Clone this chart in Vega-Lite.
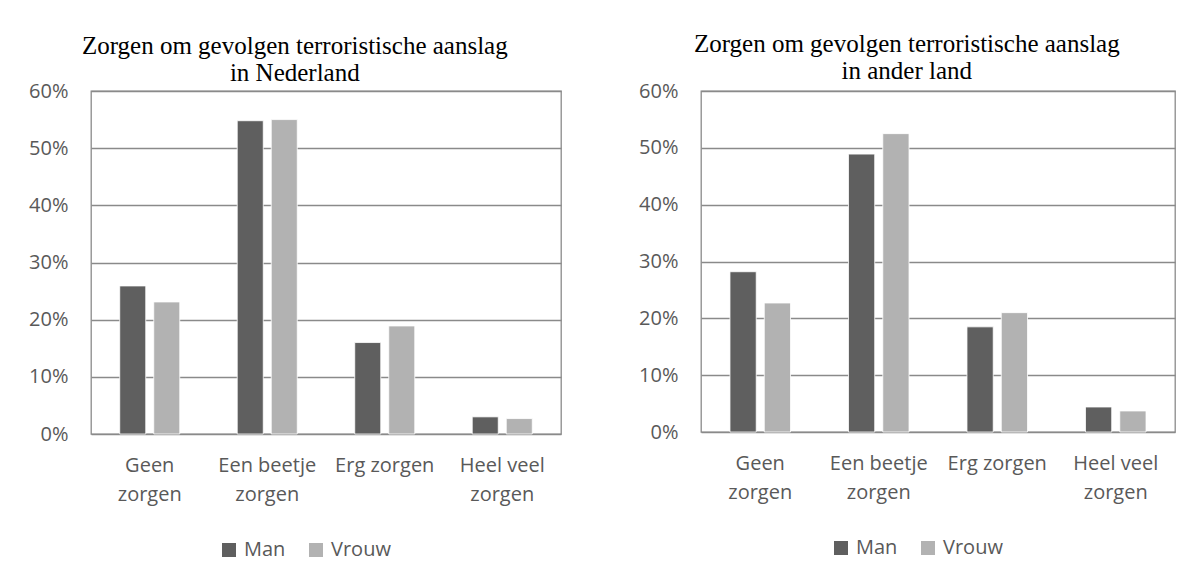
{
  "$schema": "https://vega.github.io/schema/vega-lite/v6.json",
  "padding": {"left": 27, "top": 31, "right": 5, "bottom": 5},
  "spacing": 75,
  "background": "white",
  "datasets": {
    "rows": [
      {"panel": "NL", "zorg": "Geen zorgen", "geslacht": "Man", "pct": 0.259},
      {"panel": "NL", "zorg": "Geen zorgen", "geslacht": "Vrouw", "pct": 0.231},
      {"panel": "NL", "zorg": "Een beetje zorgen", "geslacht": "Man", "pct": 0.548},
      {"panel": "NL", "zorg": "Een beetje zorgen", "geslacht": "Vrouw", "pct": 0.550},
      {"panel": "NL", "zorg": "Erg zorgen", "geslacht": "Man", "pct": 0.160},
      {"panel": "NL", "zorg": "Erg zorgen", "geslacht": "Vrouw", "pct": 0.189},
      {"panel": "NL", "zorg": "Heel veel zorgen", "geslacht": "Man", "pct": 0.030},
      {"panel": "NL", "zorg": "Heel veel zorgen", "geslacht": "Vrouw", "pct": 0.027},
      {"panel": "AL", "zorg": "Geen zorgen", "geslacht": "Man", "pct": 0.282},
      {"panel": "AL", "zorg": "Geen zorgen", "geslacht": "Vrouw", "pct": 0.227},
      {"panel": "AL", "zorg": "Een beetje zorgen", "geslacht": "Man", "pct": 0.489},
      {"panel": "AL", "zorg": "Een beetje zorgen", "geslacht": "Vrouw", "pct": 0.525},
      {"panel": "AL", "zorg": "Erg zorgen", "geslacht": "Man", "pct": 0.185},
      {"panel": "AL", "zorg": "Erg zorgen", "geslacht": "Vrouw", "pct": 0.210},
      {"panel": "AL", "zorg": "Heel veel zorgen", "geslacht": "Man", "pct": 0.044},
      {"panel": "AL", "zorg": "Heel veel zorgen", "geslacht": "Vrouw", "pct": 0.037}
    ]
  },
  "resolve": {
    "scale": {"x": "independent", "y": "independent", "color": "independent", "xOffset": "independent"},
    "legend": {"color": "independent"}
  },
  "config": {
    "font": "Open Sans",
    "view": {"stroke": "#8a8a8a", "strokeWidth": 1.3},
    "axis": {
      "labelFont": "Open Sans",
      "labelFontSize": 20,
      "labelColor": "#595959",
      "ticks": false,
      "domain": false,
      "gridColor": "#8a8a8a",
      "gridWidth": 1.3,
      "gridOpacity": 1
    },
    "legend": {
      "labelFont": "Open Sans",
      "labelFontSize": 20,
      "labelColor": "#595959"
    },
    "title": {
      "font": "Liberation Serif",
      "fontSize": 25,
      "fontWeight": "normal",
      "color": "#000000",
      "anchor": "middle",
      "frame": "bounds",
      "lineHeight": 27,
      "offset": -5
    }
  },
  "hconcat": [
    {
      "title": {"text": ["Zorgen om gevolgen terroristische aanslag", "in Nederland"]},
      "width": 470,
      "height": 343,
      "data": {"name": "rows"},
      "transform": [{"filter": "datum.panel === 'NL'"}],
      "mark": {"type": "bar", "stroke": "#ffffff", "strokeWidth": 0.8},
      "encoding": {
        "x": {
          "field": "zorg", "type": "nominal",
          "sort": ["Geen zorgen", "Een beetje zorgen", "Erg zorgen", "Heel veel zorgen"],
          "scale": {"paddingInner": 0.489, "paddingOuter": 0.2445},
          "axis": {
            "title": null, "labelAngle": 0, "labelPadding": 21, "labelLineHeight": 29, "labelBaseline": "top",
            "labelExpr": "datum.value === 'Geen zorgen' ? ['Geen', 'zorgen'] : datum.value === 'Een beetje zorgen' ? ['Een beetje', 'zorgen'] : datum.value === 'Heel veel zorgen' ? ['Heel veel', 'zorgen'] : datum.value"
          }
        },
        "xOffset": {"field": "geslacht", "type": "nominal", "sort": ["Man", "Vrouw"], "scale": {"paddingInner": 0.235, "paddingOuter": 0}},
        "y": {
          "field": "pct", "type": "quantitative",
          "scale": {"domain": [0, 0.6], "nice": false},
          "axis": {"title": null, "format": ".0%", "values": [0, 0.1, 0.2, 0.3, 0.4, 0.5, 0.6], "grid": true, "labelPadding": 23}
        },
        "color": {
          "field": "geslacht", "type": "nominal",
          "scale": {"domain": ["Man", "Vrouw"], "range": ["#5f5f5f", "#b2b2b2"]},
          "legend": {
            "title": null, "orient": "none", "legendX": 128, "legendY": 449, "direction": "horizontal",
            "symbolType": "square", "symbolSize": 196, "symbolStrokeWidth": 0, "labelOffset": 5, "columnPadding": 20
          }
        }
      }
    },
    {
      "title": {"text": ["Zorgen om gevolgen terroristische aanslag", "in ander land"], "offset": -3},
      "width": 474,
      "height": 341,
      "data": {"name": "rows"},
      "transform": [{"filter": "datum.panel === 'AL'"}],
      "mark": {"type": "bar", "stroke": "#ffffff", "strokeWidth": 0.8},
      "encoding": {
        "x": {
          "field": "zorg", "type": "nominal",
          "sort": ["Geen zorgen", "Een beetje zorgen", "Erg zorgen", "Heel veel zorgen"],
          "scale": {"paddingInner": 0.489, "paddingOuter": 0.2445},
          "axis": {
            "title": null, "labelAngle": 0, "labelPadding": 21, "labelLineHeight": 29, "labelBaseline": "top",
            "labelExpr": "datum.value === 'Geen zorgen' ? ['Geen', 'zorgen'] : datum.value === 'Een beetje zorgen' ? ['Een beetje', 'zorgen'] : datum.value === 'Heel veel zorgen' ? ['Heel veel', 'zorgen'] : datum.value"
          }
        },
        "xOffset": {"field": "geslacht", "type": "nominal", "sort": ["Man", "Vrouw"], "scale": {"paddingInner": 0.235, "paddingOuter": 0}},
        "y": {
          "field": "pct", "type": "quantitative",
          "scale": {"domain": [0, 0.6], "nice": false},
          "axis": {"title": null, "format": ".0%", "values": [0, 0.1, 0.2, 0.3, 0.4, 0.5, 0.6], "grid": true, "labelPadding": 23}
        },
        "color": {
          "field": "geslacht", "type": "nominal",
          "scale": {"domain": ["Man", "Vrouw"], "range": ["#5f5f5f", "#b2b2b2"]},
          "legend": {
            "title": null, "orient": "none", "legendX": 130, "legendY": 447, "direction": "horizontal",
            "symbolType": "square", "symbolSize": 196, "symbolStrokeWidth": 0, "labelOffset": 5, "columnPadding": 20
          }
        }
      }
    }
  ]
}
